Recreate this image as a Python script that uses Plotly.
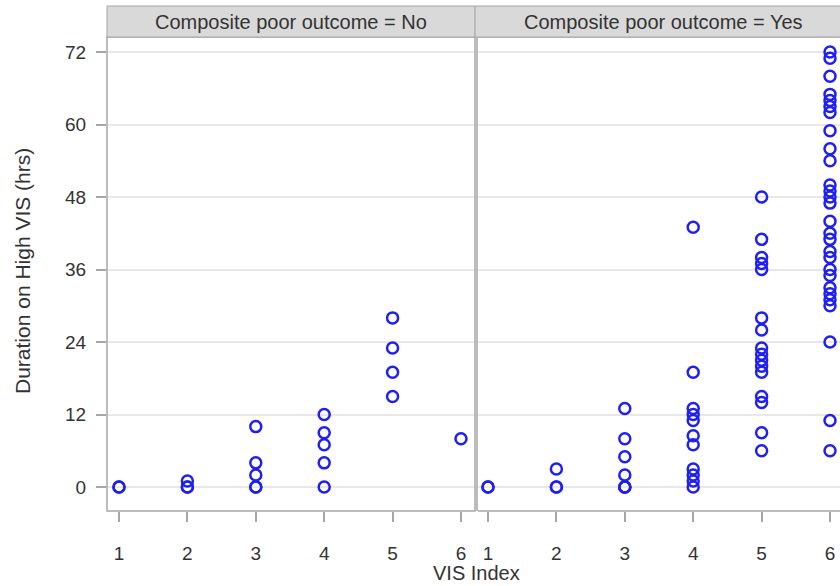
import plotly.graph_objects as go

# ---- data ----
vis_ticks = [1, 2, 3, 4, 5, 6]
y_ticks = [0, 12, 24, 36, 48, 60, 72]
panel_titles = ["Composite poor outcome = No", "Composite poor outcome = Yes"]

no_vis = [1, 1,
          2, 2, 2,
          3, 3, 3, 3, 3,
          4, 4, 4, 4, 4,
          5, 5, 5, 5,
          6]
no_hrs = [0, 0,
          0, 0, 1,
          0, 0, 2, 4, 10,
          0, 4, 7, 9, 12,
          15, 19, 23, 28,
          8]

yes_vis = ([1, 1] + [2, 2, 2] + [3] * 7 + [4] * 11 + [5] * 16 + [6] * 28)
yes_hrs = ([0, 0] +
           [0, 0, 3] +
           [0, 0, 0, 2, 5, 8, 13] +
           [0, 1, 2, 3, 7, 8.5, 11, 12, 13, 19, 43] +
           [6, 9, 14, 15, 19, 20, 21, 22, 23, 26, 28, 36, 37, 38, 41, 48] +
           [6, 11, 24, 30, 31, 32, 33, 35, 36, 38, 39, 41, 42, 44, 47, 48,
            49, 50, 54, 56, 59, 62, 63, 64, 65, 68, 71, 72])

# ---- styling ----
W, H = 840, 586
ML, MR, MT, MB = 107, 0, 37, 75
pw = W - ML - MR
ph = H - MT - MB
FONT = "Liberation Sans, Arial, sans-serif"
TXT = "#333333"
BLUE = "#1f1ff2"
FRAME = "#a6a6a6"
GRID = "#e8e8e8"

left_dom = [0, 368 / pw]
right_dom = [371 / pw, 1]

marker = dict(symbol="circle-open", size=11, color=BLUE, line=dict(width=2.5, color=BLUE))

fig = go.Figure()
fig.add_trace(go.Scatter(x=no_vis, y=no_hrs, mode="markers", marker=marker,
                         xaxis="x", yaxis="y", showlegend=False))
fig.add_trace(go.Scatter(x=yes_vis, y=yes_hrs, mode="markers", marker=marker,
                         xaxis="x2", yaxis="y2", showlegend=False))

xcommon = dict(tickvals=vis_ticks, ticks="outside", ticklen=10, tickwidth=1.5,
               tickcolor=FRAME, showgrid=False, zeroline=False, showline=False,
               tickfont=dict(family=FONT, size=19, color=TXT), ticklabelstandoff=15)
fig.update_layout(
    width=W, height=H,
    margin=dict(l=ML, r=MR, t=MT, b=MB),
    paper_bgcolor="white", plot_bgcolor="white",
    xaxis=dict(domain=left_dom, range=[0.8246, 6.205], anchor="y", **xcommon),
    xaxis2=dict(domain=right_dom, range=[0.854, 6.146], anchor="y2", **xcommon),
    yaxis=dict(domain=[0, 1], range=[-3.97, 74.5], tickvals=y_ticks, ticks="outside",
               ticklen=10, tickwidth=1.5, tickcolor=FRAME, showgrid=True,
               gridcolor=GRID, gridwidth=2, zeroline=False, showline=False,
               tickfont=dict(family=FONT, size=19, color=TXT), ticklabelstandoff=6,
               anchor="x"),
    yaxis2=dict(domain=[0, 1], matches="y", range=[-3.97, 74.5], tickvals=y_ticks,
                showticklabels=False, ticks="", showgrid=True, gridcolor=GRID,
                gridwidth=2, zeroline=False, showline=False, anchor="x2"),
)

strip_top = 1 + 31 / ph
shapes = [
    dict(type="rect", xref="paper", yref="paper", x0=left_dom[0], x1=left_dom[1],
         y0=0, y1=1, line=dict(color=FRAME, width=1.5), layer="above"),
    dict(type="line", xref="paper", yref="paper", x0=right_dom[0], x1=1, y0=0, y1=0,
         line=dict(color=FRAME, width=1.5), layer="above"),
    dict(type="line", xref="paper", yref="paper", x0=right_dom[0], x1=1, y0=1, y1=1,
         line=dict(color=FRAME, width=1.5), layer="above"),
    dict(type="rect", xref="paper", yref="paper", x0=left_dom[1], x1=right_dom[0],
         y0=0, y1=1, fillcolor="#bcbcbc", line=dict(width=0), layer="above"),
    dict(type="rect", xref="paper", yref="paper", x0=left_dom[0], x1=left_dom[1],
         y0=1, y1=strip_top, fillcolor="#d9d9d9", line=dict(color=FRAME, width=1)),
    dict(type="rect", xref="paper", yref="paper", x0=left_dom[1], x1=1.01,
         y0=1, y1=strip_top, fillcolor="#d9d9d9", line=dict(color=FRAME, width=1)),
]
fig.update_layout(shapes=shapes)

ann = [
    dict(text=panel_titles[0], x=(left_dom[0] + left_dom[1]) / 2, y=(1 + strip_top) / 2,
         xref="paper", yref="paper", showarrow=False, xanchor="center", yanchor="middle",
         font=dict(family=FONT, size=20, color=TXT)),
    dict(text=panel_titles[1], x=(right_dom[0] + 1.012) / 2, y=(1 + strip_top) / 2,
         xref="paper", yref="paper", showarrow=False, xanchor="center", yanchor="middle",
         font=dict(family=FONT, size=20, color=TXT)),
    dict(text="VIS Index", x=(476 - ML) / pw, y=-(573 - (H - MB)) / ph,
         xref="paper", yref="paper", showarrow=False, xanchor="center", yanchor="middle",
         font=dict(family=FONT, size=20, color=TXT)),
    dict(text="Duration on High VIS (hrs)", x=(22 - ML) / pw, y=((H - MB) - 271) / ph,
         xref="paper", yref="paper", showarrow=False, xanchor="center", yanchor="middle",
         textangle=-90, font=dict(family=FONT, size=21, color=TXT)),
]
fig.update_layout(annotations=ann)

fig.write_html("out.html")
